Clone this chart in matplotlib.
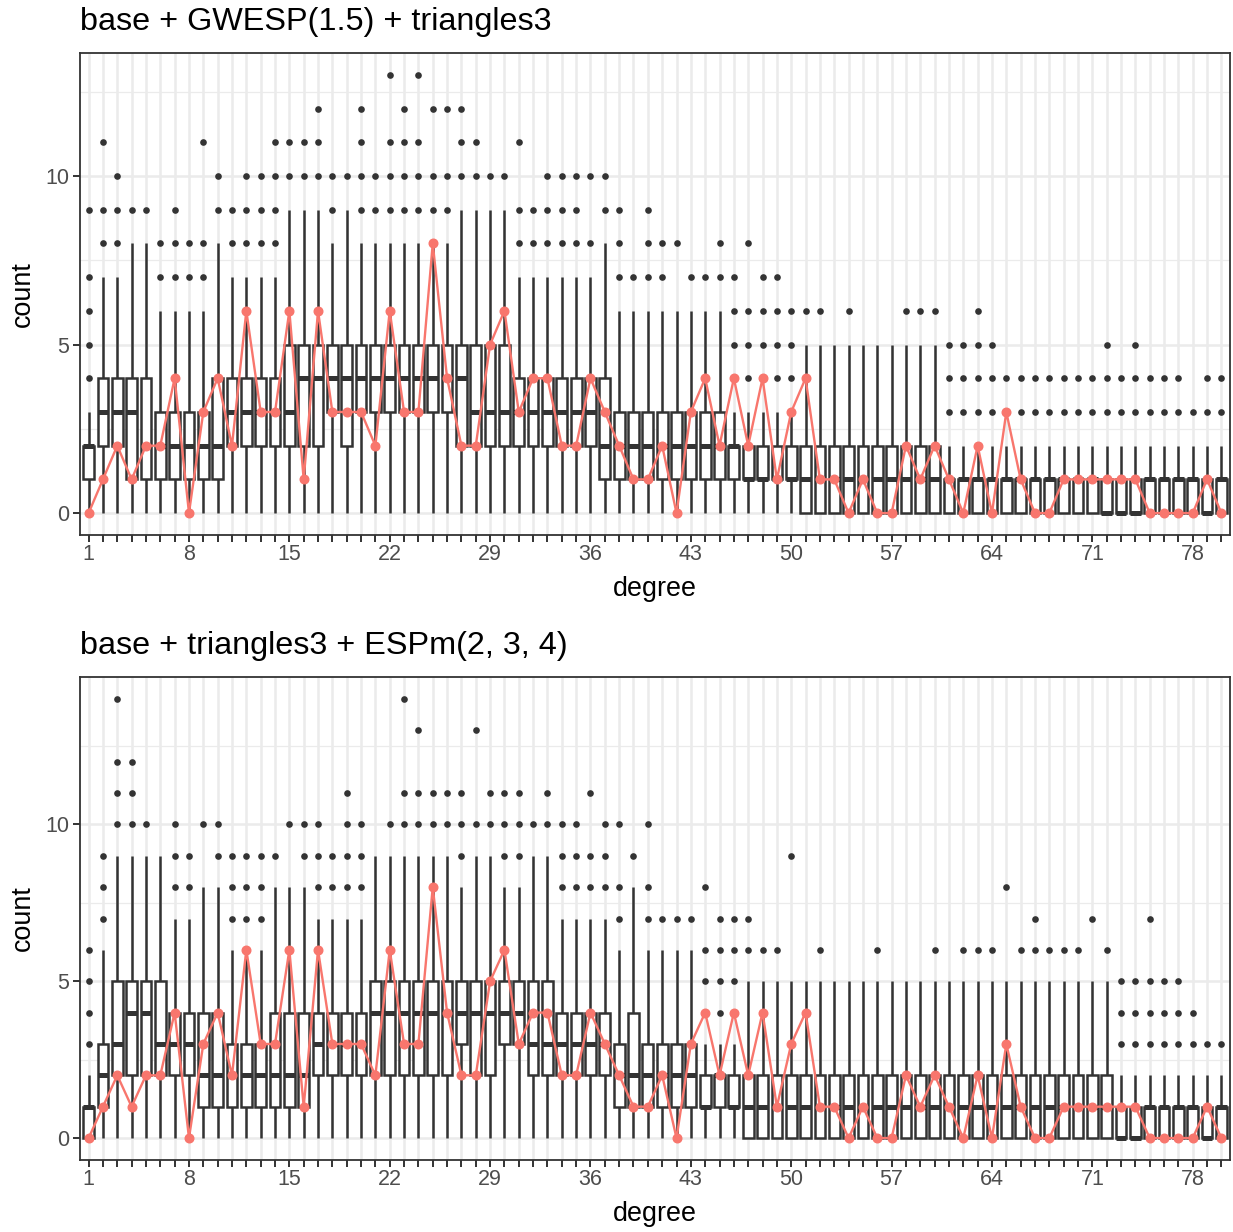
import matplotlib
matplotlib.use('Agg')
import matplotlib.pyplot as plt
from matplotlib.ticker import FixedLocator

plt.rcParams['font.family'] = ['Liberation Sans', 'DejaVu Sans']

# ---------------- data ----------------
degrees = list(range(1, 81))
tick_labels = [str(d) if (d - 1) % 7 == 0 else '' for d in degrees]

observed = [0, 1, 2, 1, 2, 2, 4, 0, 3, 4, 2, 6, 3, 3, 6, 1, 6, 3, 3, 3,
            2, 6, 3, 3, 8, 4, 2, 2, 5, 6, 3, 4, 4, 2, 2, 4, 3, 2, 1, 1,
            2, 0, 3, 4, 2, 4, 2, 4, 1, 3, 4, 1, 1, 0, 1, 0, 0, 2, 1, 2,
            1, 0, 2, 0, 3, 1, 0, 0, 1, 1, 1, 1, 1, 1, 0, 0, 0, 0, 1, 0]

LOWER_WHISKER = 0

# panel 1: base + GWESP(1.5) + triangles3
title1 = "base + GWESP(1.5) + triangles3"
q1_a = [1, 2, 2, 1, 1, 1, 1, 1, 1, 1, 2, 2, 2, 2, 2, 2, 2, 3, 2, 3,
        3, 3, 3, 3, 3, 3, 2, 2, 2, 2, 2, 2, 2, 2, 2, 2, 1, 1, 1, 1,
        1, 1, 1, 1, 1, 1, 1, 1, 1, 1, 0, 0, 0, 0, 0, 0, 0, 0, 0, 0,
        0, 0, 0, 0, 0, 0, 0, 0, 0, 0, 0, 0, 0, 0, 0, 0, 0, 0, 0, 0]
med_a = [2, 3, 3, 3, 2, 2, 2, 2, 2, 2, 3, 3, 3, 3, 3, 4, 4, 4, 4, 4,
         4, 4, 4, 4, 4, 4, 4, 3, 3, 3, 3, 3, 3, 3, 3, 3, 2, 2, 2, 2,
         2, 2, 2, 2, 2, 2, 1, 1, 1, 1, 1, 1, 1, 1, 1, 1, 1, 1, 1, 1,
         1, 1, 1, 1, 1, 1, 1, 1, 1, 1, 1, 0, 0, 0, 1, 1, 1, 1, 0, 1]
q3_a = [2, 4, 4, 4, 4, 3, 3, 3, 3, 4, 4, 4, 4, 4, 5, 5, 5, 5, 5, 5,
        5, 5, 5, 5, 5, 5, 5, 5, 5, 5, 4, 4, 4, 4, 4, 4, 4, 3, 3, 3,
        3, 3, 3, 3, 3, 2, 2, 2, 2, 2, 2, 2, 2, 2, 2, 2, 2, 2, 2, 2,
        1, 1, 1, 1, 1, 1, 1, 1, 1, 1, 1, 1, 1, 1, 1, 1, 1, 1, 1, 1]
whi_a = [3, 7, 7, 8, 8, 6, 6, 6, 6, 8, 7, 7, 7, 7, 9, 9, 9, 8, 9, 8,
         8, 8, 8, 8, 8, 8, 9, 9, 9, 9, 7, 7, 7, 7, 7, 7, 8, 6, 6, 6,
         6, 6, 6, 6, 6, 3, 3, 3, 3, 3, 5, 5, 5, 5, 5, 5, 5, 5, 5, 5,
         2, 2, 2, 2, 2, 2, 2, 2, 2, 2, 2, 2, 2, 2, 2, 2, 2, 2, 2, 2]
out_a = [[4, 5, 6, 7, 9], [8, 9, 11], [8, 9, 10], [9], [9], [7, 8], [7, 8, 9], [7, 8],
         [7, 8, 11], [9, 10], [8, 9], [8, 9, 10], [8, 9, 10], [8, 9, 10, 11], [10, 11],
         [10, 11], [10, 11, 12], [9, 10], [10], [9, 10, 11, 12],
         [9, 10], [9, 10, 11, 13], [9, 10, 11, 12], [9, 10, 11, 13], [9, 10, 12],
         [9, 10, 12], [10, 11, 12], [10, 11], [10], [10], [8, 9, 11], [8, 9],
         [8, 9, 10], [8, 9, 10], [8, 9, 10], [8, 10], [9, 10], [7, 8, 9], [7], [7, 8, 9],
         [7, 8], [8], [7], [7], [7, 8], [5, 6, 7], [4, 5, 6, 8], [5, 6, 7], [4, 5, 6, 7],
         [4, 5, 6], [6], [6], [], [6], [], [], [], [6], [6], [6],
         [3, 4, 5], [3, 4, 5], [3, 4, 5, 6], [3, 4, 5], [3, 4], [3, 4], [3, 4], [3, 4],
         [3, 4], [3, 4], [3, 4], [3, 4, 5], [3, 4], [3, 4, 5], [3, 4], [3, 4], [3, 4],
         [3], [3, 4], [3, 4]]

# panel 2: base + triangles3 + ESPm(2, 3, 4)
title2 = "base + triangles3 + ESPm(2, 3, 4)"
q1_b = [0, 1, 2, 2, 2, 2, 2, 2, 1, 1, 1, 1, 1, 1, 1, 1, 2, 2, 2, 2,
        2, 2, 2, 2, 2, 2, 3, 2, 2, 3, 3, 2, 2, 2, 2, 2, 2, 1, 1, 1,
        1, 1, 1, 1, 1, 1, 0, 0, 0, 0, 0, 0, 0, 0, 0, 0, 0, 0, 0, 0,
        0, 0, 0, 0, 0, 0, 0, 0, 0, 0, 0, 0, 0, 0, 0, 0, 0, 0, 0, 0]
med_b = [1, 2, 3, 4, 4, 3, 3, 3, 2, 2, 2, 2, 2, 2, 2, 2, 3, 3, 3, 3,
         4, 4, 4, 4, 4, 4, 4, 4, 4, 4, 4, 3, 3, 3, 3, 3, 3, 2, 2, 2,
         2, 2, 2, 1, 2, 1, 1, 1, 1, 1, 1, 1, 1, 1, 1, 1, 1, 1, 1, 1,
         1, 1, 1, 1, 1, 1, 1, 1, 1, 1, 1, 1, 0, 0, 1, 1, 1, 1, 0, 1]
q3_b = [1, 3, 5, 5, 5, 5, 4, 4, 4, 4, 3, 3, 3, 4, 4, 4, 4, 4, 4, 4,
        5, 5, 5, 5, 5, 5, 5, 5, 5, 5, 5, 5, 5, 4, 4, 4, 4, 3, 4, 3,
        3, 3, 3, 2, 2, 2, 2, 2, 2, 2, 2, 2, 2, 2, 2, 2, 2, 2, 2, 2,
        2, 2, 2, 2, 2, 2, 2, 2, 2, 2, 2, 2, 1, 1, 1, 1, 1, 1, 1, 1]
whi_b = [2, 6, 9, 9, 9, 9, 7, 7, 8, 8, 6, 6, 6, 8, 8, 8, 7, 7, 7, 7,
         9, 9, 9, 9, 9, 9, 8, 9, 9, 8, 8, 9, 9, 7, 7, 7, 7, 6, 8, 6,
         6, 6, 6, 3, 3, 3, 5, 5, 5, 5, 5, 5, 5, 5, 5, 5, 5, 5, 5, 5,
         5, 5, 5, 5, 5, 5, 5, 5, 5, 5, 5, 5, 2, 2, 2, 2, 2, 2, 2, 2]
out_b = [[3, 4, 5, 6], [7, 8, 9], [10, 11, 12, 14], [10, 11, 12], [10], [], [8, 9, 10],
         [8, 9], [10], [9, 10], [7, 8, 9], [7, 8, 9], [7, 8, 9], [9], [10], [9, 10],
         [8, 9, 10], [8, 9], [8, 9, 10, 11], [8, 9, 10],
         [], [10], [10, 11, 14], [10, 11, 13], [10, 11], [10, 11], [9, 10, 11], [10, 13],
         [10, 11], [9, 10, 11], [9, 10, 11], [10], [10, 11], [8, 9, 10], [8, 9, 10],
         [8, 9, 11], [8, 9, 10], [7, 8, 10], [9], [7, 8, 10],
         [7], [7], [7], [5, 6, 8], [4, 5, 6, 7], [5, 6, 7], [6, 7], [6], [6], [9],
         [], [6], [], [], [], [6], [], [], [], [6],
         [], [6], [6], [6], [8], [6], [6, 7], [6], [6], [6], [7], [6],
         [3, 4, 5], [3, 4, 5], [3, 4, 5, 7], [3, 4, 5], [3, 4, 5], [3, 4], [3], [3]]

# ---------------- style ----------------
W, H, DPI = 1233, 1232, 100
DARK = '#333333'
RED = '#F8766D'
GRID = '#EBEBEB'
LW = 1.8

fig = plt.figure(figsize=(W / DPI, H / DPI), dpi=DPI)
fig.patch.set_facecolor('white')


def px_axes(left, top, right, bottom):
    return fig.add_axes([left / W, 1 - bottom / H, (right - left) / W, (bottom - top) / H])


def draw_panel(ax, title, q1, med, q3, whi, outl, ymax, top_px, bottom_px):
    stats = [dict(med=m, q1=a, q3=b, whislo=LOWER_WHISKER, whishi=w, fliers=f)
             for a, m, b, w, f in zip(q1, med, q3, whi, outl)]
    ax.bxp(stats, positions=degrees, widths=0.75, patch_artist=True, showcaps=False,
           showfliers=True, manage_ticks=False,
           boxprops=dict(facecolor='white', edgecolor=DARK, linewidth=LW),
           whiskerprops=dict(color=DARK, linewidth=LW, solid_capstyle='butt'),
           medianprops=dict(color=DARK, linewidth=2 * LW, solid_capstyle='butt'),
           flierprops=dict(marker='o', markerfacecolor=DARK, markeredgecolor=DARK,
                           markersize=4.8, markeredgewidth=0),
           zorder=2)
    ax.plot(degrees, observed, color=RED, lw=1.7, marker='o', ms=6.2, zorder=4,
            solid_joinstyle='round')

    ax.set_xlim(0.4, 80.6)
    ax.set_ylim(-0.05 * ymax, 1.05 * ymax)
    ax.xaxis.set_major_locator(FixedLocator(degrees))
    ax.set_xticklabels(tick_labels)
    ax.yaxis.set_major_locator(FixedLocator([0, 5, 10]))
    ax.yaxis.set_minor_locator(FixedLocator([2.5, 7.5, 12.5]))
    ax.set_yticklabels(['0', '5', '10'])
    ax.set_axisbelow(True)
    ax.grid(which='major', color=GRID, linewidth=LW)
    ax.grid(which='minor', axis='y', color=GRID, linewidth=LW / 2)
    ax.tick_params(which='major', length=5, width=1.4, color=DARK,
                   labelcolor='#4D4D4D', labelsize=15.5)
    ax.tick_params(axis='x', pad=1.5)
    ax.tick_params(axis='y', pad=3)
    ax.tick_params(which='minor', length=0)
    for s in ax.spines.values():
        s.set_color(DARK)
        s.set_linewidth(1.3)
        s.set_zorder(6)

    fig.text(80 / W, 1 - (top_px - 23) / H, title, fontsize=23.3, color='black',
             ha='left', va='baseline')
    fig.text(655 / W, 1 - (bottom_px + 61) / H, 'degree', fontsize=19.4,
             color='black', ha='center', va='baseline')
    fig.text(23 / W, 1 - ((top_px + bottom_px) / 2) / H, 'count', fontsize=19.4,
             color='black', ha='center', va='center', rotation=90)


ax1 = px_axes(80, 53, 1230, 535)
draw_panel(ax1, title1, q1_a, med_a, q3_a, whi_a, out_a, 13, 53, 535)
ax2 = px_axes(80, 677, 1230, 1160)
draw_panel(ax2, title2, q1_b, med_b, q3_b, whi_b, out_b, 14, 677, 1160)

fig.savefig('out.png', dpi=DPI, facecolor='white')
